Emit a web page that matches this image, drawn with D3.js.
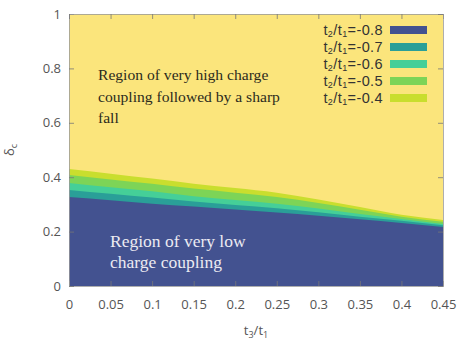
<!DOCTYPE html>
<html>
<head>
<meta charset="utf-8">
<script src="https://cdn.jsdelivr.net/npm/d3@7"></script>
<style>
  html, body { margin: 0; padding: 0; background: #ffffff; }
  svg { display: block; }
</style>
</head>
<body>
<svg id="chart" width="458" height="342"></svg>
<script>
// t3/t1 sample points along the x axis
const t3 = [0, 0.05, 0.1, 0.15, 0.2, 0.25, 0.3, 0.35, 0.4, 0.45];

// Upper boundary of each δc region, one array per t2/t1 value
const ratioLabels = ["-0.8", "-0.7", "-0.6", "-0.5", "-0.4"];
const bound_m04 = [0.430, 0.413, 0.395, 0.376, 0.360, 0.343, 0.318, 0.290, 0.262, 0.243];
const bound_m05 = [0.408, 0.392, 0.376, 0.358, 0.343, 0.327, 0.305, 0.280, 0.255, 0.236];
const bound_m06 = [0.379, 0.363, 0.348, 0.330, 0.316, 0.302, 0.285, 0.265, 0.246, 0.228];
const bound_m07 = [0.353, 0.339, 0.325, 0.311, 0.298, 0.286, 0.271, 0.255, 0.240, 0.223];
const bound_m08 = [0.327, 0.315, 0.302, 0.292, 0.281, 0.270, 0.258, 0.245, 0.232, 0.217];
const boundaries = [bound_m08, bound_m07, bound_m06, bound_m05, bound_m04];

const xTicks = [0, 0.05, 0.1, 0.15, 0.2, 0.25, 0.3, 0.35, 0.4, 0.45];
const yTicks = [0, 0.2, 0.4, 0.6, 0.8, 1];

const colors = ["#435290", "#2a9f98", "#45cf98", "#7dd457", "#c9de2e"];
const bgYellow = "#fbe57c";

const svg = d3.select("#chart");
const m = { left: 69, right: 443, top: 14, bottom: 286 };

const x = d3.scaleLinear().domain([0, 0.45]).range([m.left, m.right]);
const y = d3.scaleLinear().domain([0, 1]).range([m.bottom, m.top]);

// plot background (region above all boundaries)
svg.append("rect")
  .attr("x", m.left).attr("y", m.top)
  .attr("width", m.right - m.left).attr("height", m.bottom - m.top)
  .attr("fill", bgYellow);

// filled regions, widest first so narrower ones sit on top
const area = d3.area()
  .x((d, i) => x(t3[i]))
  .y0(y(0))
  .y1(d => y(d))
  .curve(d3.curveMonotoneX);

const order = [4, 3, 2, 1, 0];
svg.append("g").selectAll("path")
  .data(order)
  .join("path")
  .attr("d", k => area(boundaries[k]))
  .attr("fill", k => colors[k]);

// axes with inward ticks on all four sides
const tickColor = "#777";
const fontTick = "'Open Sans', sans-serif";

const axB = d3.axisBottom(x).tickValues(xTicks).tickSize(-5).tickPadding(14)
  .tickFormat(d => d3.format("~g")(d));
const axL = d3.axisLeft(y).tickValues(yTicks).tickSize(-5).tickPadding(8)
  .tickFormat(d => d3.format("~g")(d));
const axT = d3.axisTop(x).tickValues(xTicks).tickSize(-5).tickFormat("");
const axR = d3.axisRight(y).tickValues(yTicks).tickSize(-5).tickFormat("");

function styleAxis(g) {
  g.select(".domain").attr("stroke", "#999").attr("stroke-width", 0.8);
  g.selectAll(".tick line").attr("stroke", tickColor).attr("stroke-width", 0.8);
  g.selectAll(".tick text").attr("fill", "#555").attr("font-size", 13)
    .attr("font-family", fontTick);
}

svg.append("g").attr("transform", `translate(0,${m.bottom})`).call(axB).call(styleAxis);
svg.append("g").attr("transform", `translate(${m.left},0)`).call(axL).call(styleAxis);
svg.append("g").attr("transform", `translate(0,${m.top})`).call(axT).call(styleAxis);
svg.append("g").attr("transform", `translate(${m.right},0)`).call(axR).call(styleAxis);

// axis titles
const xt = svg.append("text")
  .attr("x", (m.left + m.right) / 2).attr("y", 335)
  .attr("text-anchor", "middle").attr("fill", "#555")
  .attr("font-family", fontTick).attr("font-size", 13);
xt.append("tspan").text("t");
xt.append("tspan").attr("font-size", 9).attr("dy", 3).text("3");
xt.append("tspan").attr("dy", -3).text("/t");
xt.append("tspan").attr("font-size", 9).attr("dy", 3).text("1");

const yt = svg.append("text")
  .attr("transform", `translate(14,${(m.top + m.bottom) / 2}) rotate(-90)`)
  .attr("text-anchor", "middle").attr("fill", "#555")
  .attr("font-family", fontTick).attr("font-size", 13);
yt.append("tspan").text("δ");
yt.append("tspan").attr("font-size", 9).attr("dy", 3).text("c");

// legend
const legendFont = "'Liberation Sans', Arial, sans-serif";
const legend = svg.append("g");
ratioLabels.forEach((lab, i) => {
  const cy = 30 + i * 17;
  const t = legend.append("text")
    .attr("x", 383).attr("y", cy + 5)
    .attr("text-anchor", "end").attr("fill", "#333")
    .attr("font-family", legendFont).attr("font-size", 14.5)
    .attr("letter-spacing", 0.4);
  t.append("tspan").text("t");
  t.append("tspan").attr("font-size", 9).attr("dy", 2).text("2");
  t.append("tspan").attr("dy", -2).text("/t");
  t.append("tspan").attr("font-size", 9).attr("dy", 2).text("1");
  t.append("tspan").attr("dy", -2).text("=" + lab);
  legend.append("rect")
    .attr("x", 390).attr("y", cy - 4)
    .attr("width", 37).attr("height", 8)
    .attr("fill", colors[i]);
});

// region annotations
const serif = "'Liberation Serif', 'DejaVu Serif', serif";
const highLines = ["Region of very high charge", "coupling followed by a sharp", "fall"];
svg.append("g").selectAll("text")
  .data(highLines).join("text")
  .attr("x", 98).attr("y", (d, i) => 80 + i * 21.5)
  .attr("fill", "#2b2b1c").attr("font-family", serif).attr("font-size", 15.6)
  .text(d => d);

const lowLines = ["Region of very low", "charge coupling"];
svg.append("g").selectAll("text")
  .data(lowLines).join("text")
  .attr("x", 110).attr("y", (d, i) => 247 + i * 21)
  .attr("fill", "#ecebf2").attr("font-family", serif).attr("font-size", 17.5)
  .text(d => d);
</script>
</body>
</html>
